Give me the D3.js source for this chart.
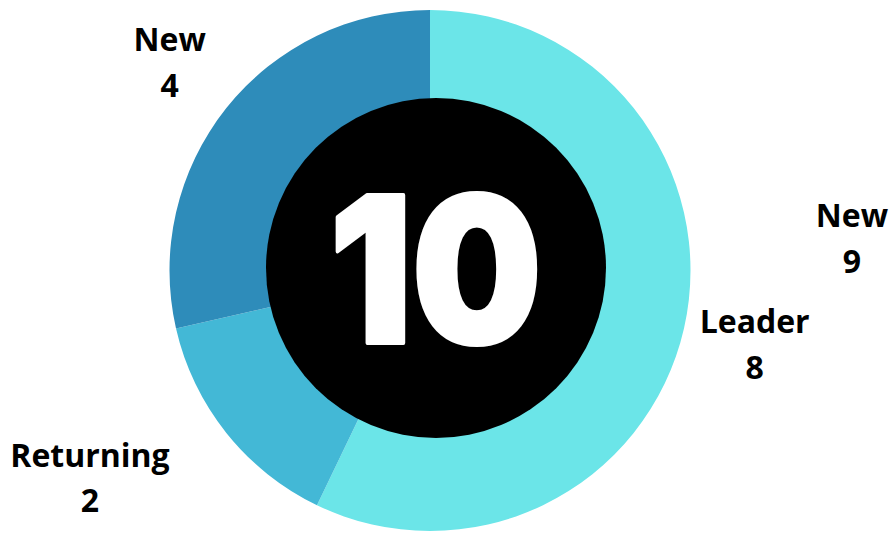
<!DOCTYPE html>
<html>
<head>
<meta charset="utf-8">
<script src="https://cdnjs.cloudflare.com/ajax/libs/d3/7.8.5/d3.min.js"></script>
<style>
  html, body { margin: 0; padding: 0; background: #fff; }
  svg { display: block; }
</style>
</head>
<body>
<div id="chart"></div>
<script>
var width = 893;
var height = 533;

// chart data
var categories = ["Leader", "Returning", "New"];
var values = [8, 2, 4];
var colors = ["#6be5e8", "#43b8d6", "#2e8cba"];
var centerValue = 10;
// stray label sitting on the right of the chart
var extraNames = ["New"];
var extraValues = [9];

var cx = 430, cy = 270.5;
var outerR = 260.5;
var holeR = 170;
var labelR = 333;

var svg = d3.select("#chart")
  .append("svg")
  .attr("width", width)
  .attr("height", height);

var slices = categories.map(function(c, i) {
  return {name: c, value: values[i], color: colors[i]};
});

var pie = d3.pie().sort(null).value(function(d) { return d.value; });
var arc = d3.arc().innerRadius(120).outerRadius(outerR);
var labelArc = d3.arc().innerRadius(labelR).outerRadius(labelR);

var g = svg.append("g").attr("transform", "translate(" + cx + "," + cy + ")");

g.selectAll("path.slice")
  .data(pie(slices))
  .enter()
  .append("path")
  .attr("class", "slice")
  .attr("d", arc)
  .attr("fill", function(d) { return d.data.color; });

// black hole with the big number
svg.append("circle")
  .attr("cx", 436)
  .attr("cy", 268)
  .attr("r", holeR)
  .attr("fill", "#000");

svg.append("text")
  .attr("x", 435.5)
  .attr("y", 343)
  .attr("text-anchor", "middle")
  .attr("font-family", "Inter, 'Open Sans', sans-serif")
  .attr("font-weight", 900)
  .attr("font-size", 204)
  .attr("fill", "#fff")
  .attr("stroke", "#fff")
  .attr("stroke-width", 4)
  .attr("stroke-linejoin", "round")
  .attr("textLength", 212)
  .attr("lengthAdjust", "spacingAndGlyphs")
  .text(centerValue);

// labels
var fontSize = 32;
function drawLabel(x, y, name, value) {
  var t = svg.append("text")
    .attr("font-family", "'Open Sans', sans-serif")
    .attr("font-weight", 700)
    .attr("font-size", fontSize)
    .attr("fill", "#000")
    .attr("text-anchor", "middle");
  t.append("tspan").attr("x", x).attr("y", y - 11.5).text(name);
  t.append("tspan").attr("x", x).attr("y", y + 34).text(value);
  return t;
}

pie(slices).forEach(function(d) {
  var c = labelArc.centroid(d);
  var x = cx + c[0], y = cy + c[1];
  var t = drawLabel(x, y, d.data.name, d.data.value);
  // if the centred label runs into the ring, push the block outward
  var b = t.node().getBBox();
  var nx = Math.max(b.x, Math.min(cx, b.x + b.width));
  var ny = Math.max(b.y, Math.min(cy, b.y + b.height));
  if (Math.hypot(nx - cx, ny - cy) < outerR) {
    var shift = (c[0] < 0 ? -1 : 1) * b.width / 2;
    t.selectAll("tspan").attr("x", x + shift);
  }
});

extraNames.forEach(function(n, i) {
  drawLabel(852, 238.5, n, extraValues[i]);
});
</script>
</body>
</html>
